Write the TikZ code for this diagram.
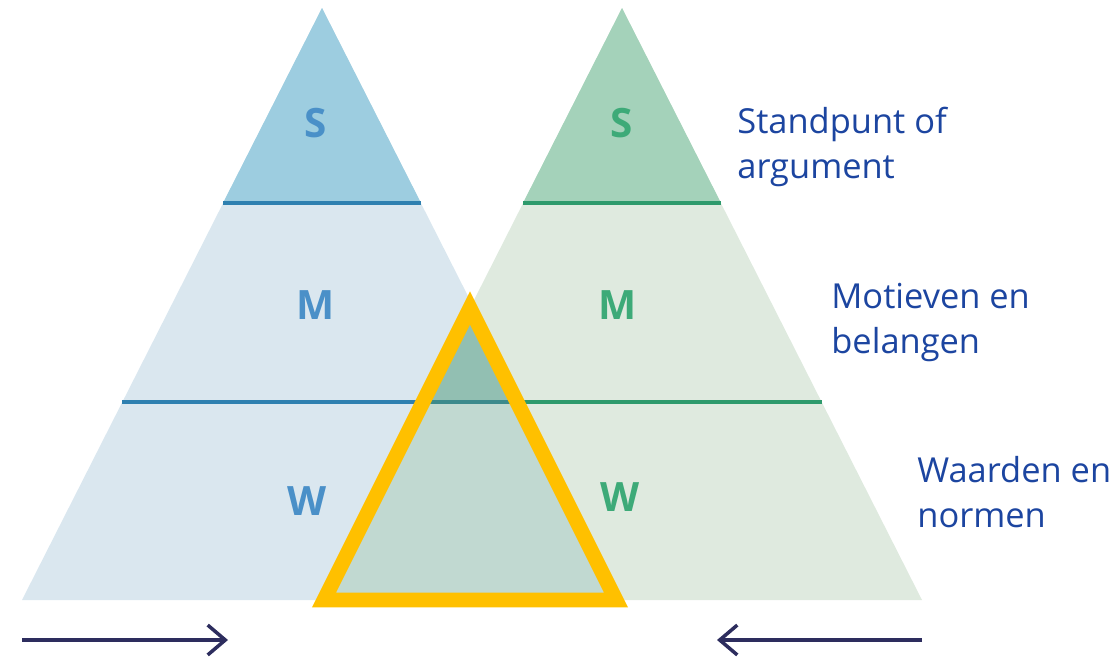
\documentclass[tikz,border=0pt]{standalone}
\usepackage{fontspec}
\setmainfont{Open Sans}
\usetikzlibrary{arrows.meta}
\definecolor{bluetop}{HTML}{9DCDE0}
\definecolor{bluelow}{HTML}{DAE7EF}
\definecolor{greentop}{HTML}{A4D2BA}
\definecolor{greenlow}{HTML}{DFEADF}
\definecolor{blueline}{HTML}{2E80B0}
\definecolor{greenline}{HTML}{2E9A6C}
\definecolor{tealline}{HTML}{3C8A8C}
\definecolor{overtop}{HTML}{92BFB2}
\definecolor{overlow}{HTML}{C1D9D1}
\definecolor{bluetext}{HTML}{4A90C8}
\definecolor{greentext}{HTML}{3DAA78}
\definecolor{labeltext}{HTML}{1C45A0}
\definecolor{focus}{HTML}{FFC000}
\definecolor{arrowcol}{HTML}{2D2D5E}

\begin{document}
\begin{tikzpicture}
[x=0.02cm,y=-0.02cm,%
  lettertext/.style={font=\bfseries\fontsize{23}{23}\selectfont,inner sep=0pt},%
  leveltext/.style={font=\fontsize{19.6}{25.6}\selectfont,text=labeltext,%
    align=left,anchor=north west,inner sep=0pt},%
  divider/.style={line width=2pt},%
  movearrow/.style={arrowcol,line width=2pt,-{Straight Barb[length=10pt,width=17pt]}}]
\useasboundingbox (0,0) rectangle (1119,659);
% left pyramid
\fill[bluelow] (322,8) -- (22,600) -- (622,600) -- cycle;
\fill[bluetop] (322,8) -- (223,203) -- (421,203) -- cycle;
% right pyramid
\fill[greenlow] (622,8) -- (322,600) -- (922,600) -- cycle;
\fill[greentop] (622,8) -- (523,203) -- (721,203) -- cycle;
% common ground
\fill[overlow] (422,402) -- (322,600) -- (622,600) -- (522,402) -- cycle;
\fill[overtop] (472,304) -- (422,402) -- (522,402) -- cycle;
% layers
\draw[divider,blueline] (223,203) -- (421,203);
\draw[divider,blueline] (122,402) -- (422,402);
\draw[divider,greenline] (523,203) -- (721,203);
\draw[divider,greenline] (522,402) -- (822,402);
\draw[divider,tealline] (422,402) -- (522,402);
\draw[focus,line width=8.5pt,miter limit=10] (470,308) -- (324,600) -- (616,600) -- cycle;
% letters
\node[lettertext,text=bluetext] (sl) at (316,123) {S};
\node[lettertext,text=bluetext] (ml) at (316,305) {M};
\node[lettertext,text=bluetext] (wl) at (307,501) {W};
\node[lettertext,text=greentext] (sr) at (622,123) {S};
\node[lettertext,text=greentext] (mr) at (618,305) {M};
\node[lettertext,text=greentext] (wr) at (620,497) {W};
% levels
\node[leveltext] (standpunt) at (737,107) {Standpunt of\\argument};
\node[leveltext] (motieven) at (831,283) {Motieven en\\belangen};
\node[leveltext] (waarden) at (917,456) {Waarden en\\normen};
% arrows
\coordinate (la) at (22,640);
\coordinate (lb) at (228,640);
\coordinate (ra) at (922,640);
\coordinate (rb) at (717,640);
\draw[movearrow] (la) -- (lb);
\draw[movearrow] (ra) -- (rb);
\end{tikzpicture}
\end{document}
